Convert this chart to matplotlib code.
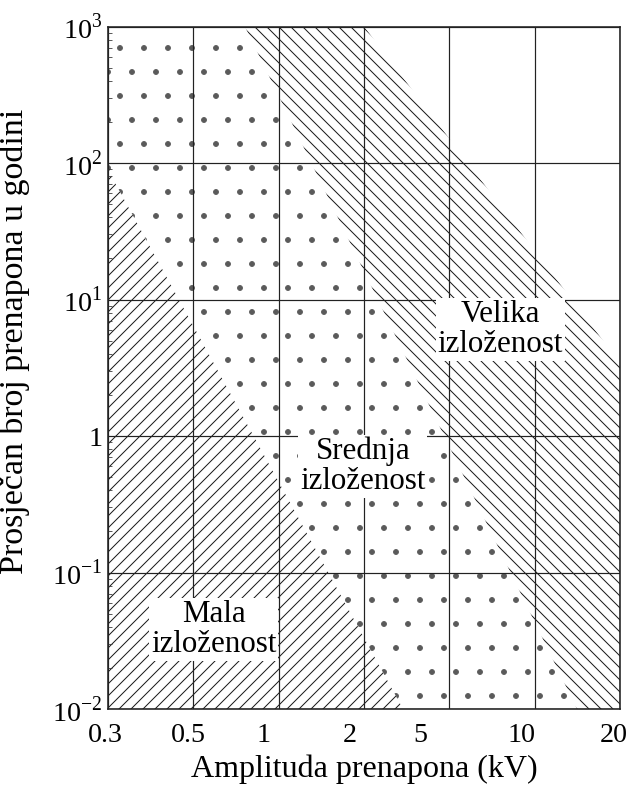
import numpy as np
import matplotlib.pyplot as plt
from matplotlib.patches import Polygon
from matplotlib.transforms import ScaledTranslation

plt.rcParams['font.family'] = ['Liberation Serif', 'DejaVu Serif']
plt.rcParams['mathtext.fontset'] = 'custom'
plt.rcParams['mathtext.rm'] = 'Liberation Serif'
plt.rcParams['hatch.linewidth'] = 0.5

# x axis: amplitude steps, drawn equally spaced
kv_ticks = [0.3, 0.5, 1, 2, 5, 10, 20]
kv_labels = ['0.3', '0.5', '1', '2', '5', '10', '20']

# y axis: yearly count decades
n_ticks = [1e-2, 1e-1, 1, 1e1, 1e2, 1e3]
n_labels = ['10$^{-2}$', '10$^{-1}$', '1', '10$^{1}$', '10$^{2}$', '10$^{3}$']

# exposure zones (kV, count per year)
mala_kv = [0.3, 0.3, 3.04]
mala_n = [89, 0.01, 0.01]
srednja_kv = [0.3, 0.76, 14.1, 3.04, 0.3]
srednja_n = [1000, 1000, 0.01, 0.01, 89]
velika_kv = [0.76, 2, 20, 20, 14.1]
velika_n = [1000, 1000, 3.43, 0.01, 0.01]

log_kv = np.log10(kv_ticks)
steps = np.arange(len(kv_ticks))


def fwd(x):
    x = np.clip(np.asarray(x, dtype=float), 1e-9, None)
    return np.interp(np.log10(x), log_kv, steps)


def inv(i):
    return 10 ** np.interp(np.asarray(i, dtype=float), steps, log_kv)


DPI = 144
fig = plt.figure(figsize=(630 / DPI, 792 / DPI), dpi=DPI)
ax = fig.add_axes([108 / 630, 1 - 709 / 792, 512 / 630, 682.5 / 792])
ax.set_xscale('function', functions=(fwd, inv))
ax.set_yscale('log')
ax.set_xlim(0.3, 20)
ax.set_ylim(1e-2, 1e3)

zones = [(mala_kv, mala_n, '////', '#1a1a1a'),
         (srednja_kv, srednja_n, '.', '#5a5a5a'),
         (velika_kv, velika_n, '\\\\\\\\', '#1a1a1a')]
for xs, ys, h, c in zones:
    ax.add_patch(Polygon(np.column_stack([xs, ys]), closed=True,
                         facecolor='none', edgecolor=c,
                         hatch=h, linewidth=0, zorder=1))

ax.set_xticks(kv_ticks)
ax.set_xticklabels(kv_labels)
ax.xaxis.set_minor_locator(plt.NullLocator())
ax.set_yticks(n_ticks)
ax.set_yticklabels(n_labels)
ax.tick_params(axis='x', length=0, pad=7, labelsize=14)
ax.tick_params(axis='y', which='major', length=0, pad=3, labelsize=14)
ax.tick_params(axis='y', which='minor', direction='in', length=2,
               width=0.4, color='#333333')

# the printed labels sit a little left of their grid lines
label_shift_px = [-3, -5, -15, -14, -29, -13, -6]
for lab, dx in zip(ax.get_xticklabels(), label_shift_px):
    lab.set_transform(lab.get_transform()
                      + ScaledTranslation(dx / DPI, 0, fig.dpi_scale_trans))

ax.grid(True, which='major', color='#222222', linewidth=0.6, zorder=2)
ax.set_axisbelow(False)
for s in ax.spines.values():
    s.set_linewidth(0.8)
    s.set_color('#222222')

box = dict(facecolor='white', edgecolor='none', pad=1)
ax.text(7.55, 6.0, 'Velika\nizloženost', fontsize=15.5, ha='center',
        va='center', linespacing=1.05, bbox=box, zorder=5)
ax.text(1.98, 0.60, 'Srednja\nizloženost', fontsize=15.5, ha='center',
        va='center', linespacing=1.05, bbox=box, zorder=5)
ax.text(0.59, 0.038, 'Mala\nizloženost', fontsize=15.5, ha='center',
        va='center', linespacing=1.05, bbox=box, zorder=5)

ax.set_xlabel('Amplituda prenapona (kV)', fontsize=16, labelpad=3)
ax.set_ylabel('Prosječan broj prenapona u godini', fontsize=17)
ax.yaxis.set_label_coords(-0.152, 0.538)

fig.savefig('out.png', dpi=DPI)
